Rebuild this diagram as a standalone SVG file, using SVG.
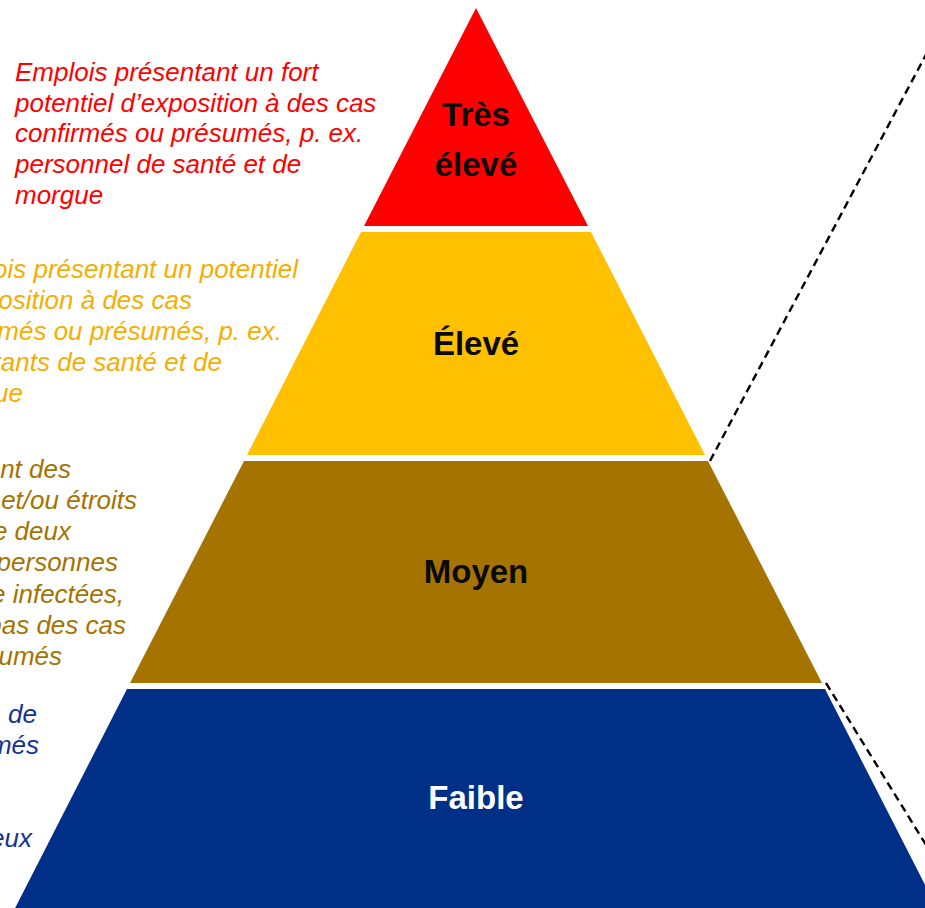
<svg xmlns="http://www.w3.org/2000/svg" width="925" height="908" viewBox="0 0 925 908">
<style>
.lbl{font-family:"Liberation Sans",Arial,sans-serif;font-weight:bold;font-size:33px;text-anchor:middle;fill:#0a0a0a}
.desc{font-family:"Liberation Sans",Arial,sans-serif;font-style:italic;font-size:26px}
.dash{fill:none;stroke:#000;stroke-width:2.4;stroke-dasharray:8 5}
</style>
<rect width="925" height="908" fill="#fff"/>
<g id="level-tres-eleve">
<polygon points="476,8 588,226 364,226" fill="#FF0000"/>
<text class="lbl" x="476" y="126">Très</text>
<text class="lbl" x="476" y="176">élevé</text>
<g class="desc" fill="#FF0000">
<text x="15" y="81">Emplois présentant un fort</text>
<text x="15" y="112">potentiel d’exposition à des cas</text>
<text x="15" y="142">confirmés ou présumés, p. ex.</text>
<text x="15" y="173">personnel de santé et de</text>
<text x="15" y="204">morgue</text>
</g>
</g>
<g id="level-eleve">
<polygon points="361,232 591,232 705,455 247,455" fill="#FFC000"/>
<text class="lbl" x="476" y="355">Élevé</text>
<g class="desc" fill="#F5AE00" text-anchor="end">
<text x="298" y="278">ois présentant un potentiel</text>
<text x="192" y="309">osition à des cas</text>
<text x="282" y="340">rmés ou présumés, p. ex.</text>
<text x="222" y="371">tants de santé et de</text>
<text x="23" y="402">ue</text>
</g>
</g>
<g id="level-moyen">
<polygon points="244,461 708,461 822,683 130,683" fill="#A57300"/>
<text class="lbl" x="476" y="583">Moyen</text>
<g class="desc" fill="#A57300" text-anchor="end">
<text x="71" y="478">ent des</text>
<text x="137" y="509">et/ou étroits</text>
<text x="71" y="540">e deux</text>
<text x="118" y="571">personnes</text>
<text x="124" y="603">e infectées,</text>
<text x="126" y="634">pas des cas</text>
<text x="62" y="665">umés</text>
</g>
</g>
<g id="level-faible">
<polygon points="127,689 825,689 943,920 9,920" fill="#002F87"/>
<text class="lbl" x="476" y="809" style="fill:#fff">Faible</text>
<g class="desc" fill="#133591" text-anchor="end">
<text x="37" y="723">de</text>
<text x="39" y="754">més</text>
<text x="32" y="847">eux</text>
</g>
</g>
<g id="connectors">
<line class="dash" x1="710" y1="461" x2="955" y2="0"/>
<line class="dash" x1="826" y1="683" x2="965" y2="908"/>
</g>
</svg>
